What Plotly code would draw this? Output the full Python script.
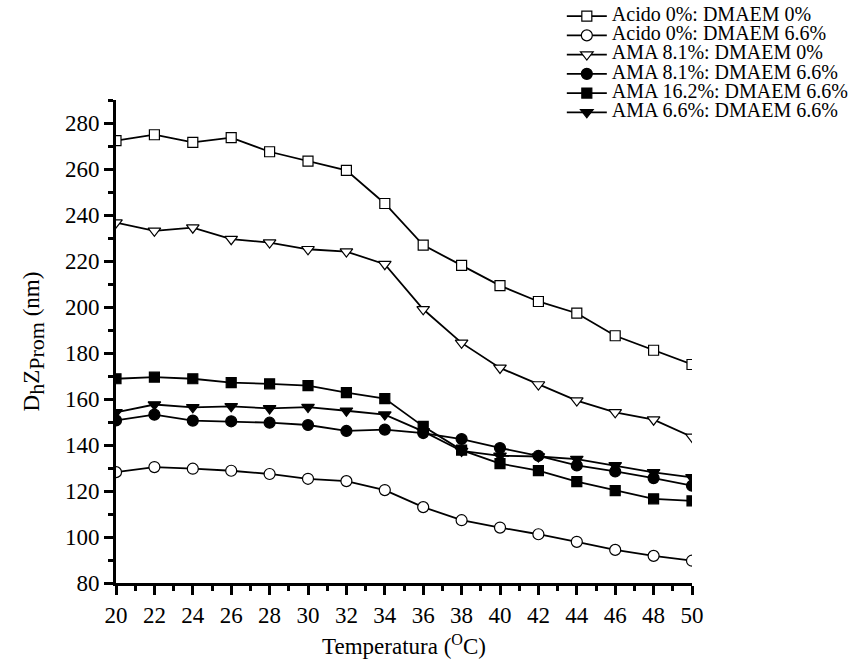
import plotly.graph_objects as go

# Temperature (°C) and mean hydrodynamic diameter (nm) for each formulation
temperatura = [20, 22, 24, 26, 28, 30, 32, 34, 36, 38, 40, 42, 44, 46, 48, 50]

acido0_dmaem0 = [272.3, 274.9, 271.6, 273.6, 267.5, 263.4, 259.4, 245.0,
                 226.9, 218.1, 209.3, 202.4, 197.3, 187.5, 181.2, 175.0]
acido0_dmaem66 = [128.2, 130.4, 129.7, 128.8, 127.4, 125.3, 124.3, 120.4,
                  113.0, 107.3, 104.1, 101.2, 97.9, 94.4, 91.8, 89.7]
ama81_dmaem0 = [236.7, 233.1, 234.5, 229.5, 228.0, 225.1, 224.1, 218.6,
                199.0, 184.4, 173.5, 166.3, 159.3, 154.2, 151.0, 143.5]
ama81_dmaem66 = [150.7, 153.2, 150.6, 150.3, 149.7, 148.7, 146.1, 146.7,
                 145.2, 142.6, 138.7, 135.3, 131.1, 128.5, 125.6, 122.3]
ama162_dmaem66 = [168.8, 169.5, 168.8, 167.1, 166.6, 165.8, 162.8, 160.2,
                  148.1, 137.8, 131.9, 128.9, 124.1, 120.2, 116.6, 115.7]
ama66_dmaem66 = [154.2, 157.6, 156.4, 156.8, 155.9, 156.5, 154.9, 153.2,
                 145.9, 137.4, 135.3, 135.0, 133.9, 131.1, 128.1, 125.9]

series = [
    ("Acido 0%: DMAEM 0%", acido0_dmaem0, "square", "white", 10),
    ("Acido 0%: DMAEM 6.6%", acido0_dmaem66, "circle", "white", 11),
    ("AMA 8.1%: DMAEM 0%", ama81_dmaem0, "triangle-down", "white", 11),
    ("AMA 8.1%: DMAEM 6.6%", ama81_dmaem66, "circle", "black", 11),
    ("AMA 16.2%: DMAEM 6.6%", ama162_dmaem66, "square", "black", 10),
    ("AMA 6.6%: DMAEM 6.6%", ama66_dmaem66, "triangle-down", "black", 11),
]

SERIF = "Liberation Serif, Times New Roman, serif"


def sub(text, size=22):
    # subscript kept at nearly full size, only shifted down
    return '<sub><span style="font-size:%dpx">%s</span></sub>' % (size, text)


fig = go.Figure()
for name, values, symbol, fill, size in series:
    fig.add_trace(go.Scatter(
        x=temperatura, y=values, mode="lines+markers",
        name='<span style="font-size:20px">' + name + "</span>",
        line=dict(color="black", width=1.8),
        marker=dict(symbol=symbol, size=size, color=fill,
                    line=dict(color="black", width=1.2)),
    ))

axis_common = dict(
    showline=True, linecolor="black", linewidth=3,
    ticks="outside", ticklen=9, tickwidth=2.5, tickcolor="black",
    showgrid=False, zeroline=False,
    tickfont=dict(family=SERIF, size=23, color="black"),
    title_font=dict(family=SERIF, size=23, color="black"),
)

fig.update_xaxes(
    range=[20, 50], tick0=20, dtick=2,
    minor=dict(ticks="outside", ticklen=5, tickwidth=2.5, tickcolor="black", dtick=1),
    title_text="Temperatura (<sup>O</sup>C)", title_standoff=12,
    **axis_common,
)
fig.update_yaxes(
    range=[80, 290], tick0=80, dtick=20,
    minor=dict(ticks="outside", ticklen=5, tickwidth=2.5, tickcolor="black", dtick=10),
    title_text="D" + sub("h") + "Z" + sub("Prom") + " (nm)", title_standoff=19,
    **axis_common,
)

fig.update_layout(
    width=859, height=666,
    margin=dict(l=116, r=167, t=100, b=83, autoexpand=False),
    paper_bgcolor="white", plot_bgcolor="white",
    font=dict(family=SERIF, color="black"),
    legend=dict(
        x=0.774, y=1.204, xanchor="left", yanchor="top",
        font=dict(family=SERIF, size=12.5, color="black"),
        itemwidth=40, bgcolor="rgba(0,0,0,0)", borderwidth=0,
        tracegroupgap=0,
    ),
    showlegend=True,
)

fig.write_html("out.html")
